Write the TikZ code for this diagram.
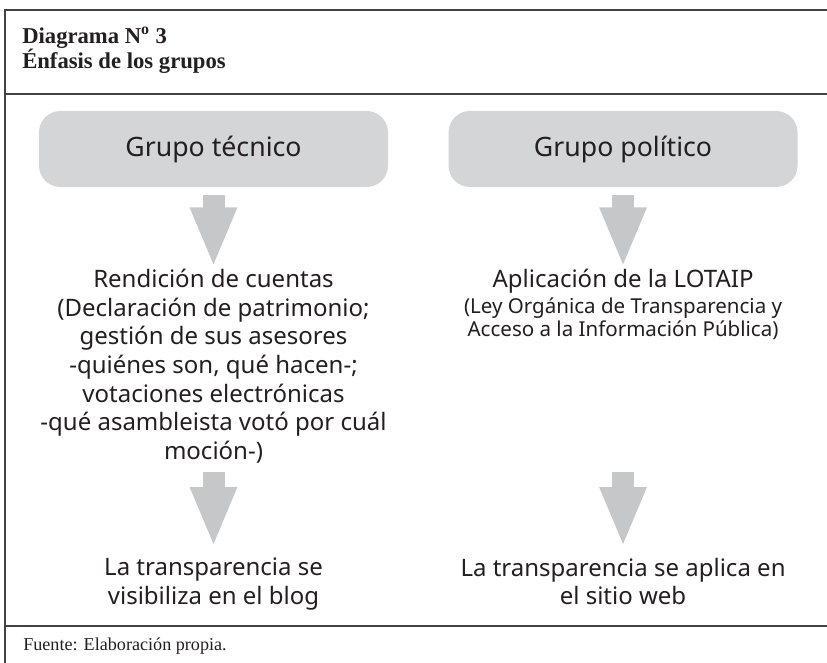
\documentclass[tikz,border=0pt]{standalone}
\usepackage{fontspec}
\setmainfont{Liberation Serif}
\newfontfamily\grupofont{Noto Sans}
\newcommand\notafont{\grupofont\fontsize{15.4}{18}\selectfont}
\usetikzlibrary{arrows.meta, positioning}

\definecolor{boxgray}{HTML}{D4D5D7}
\definecolor{arrowgray}{HTML}{C6C7C9}
\definecolor{ink}{HTML}{231F20}

\begin{document}
\begin{tikzpicture}[
    x=0.75pt, y=-0.75pt,
    node distance = 61.3pt and 45pt,
    grupo/.style = {rectangle, rounded corners=16pt, fill=boxgray, minimum width=261.75pt, minimum height=57pt, inner sep=0pt, font=\grupofont\fontsize{20}{24}\selectfont, text=ink},
    txt/.style = {align=center, inner sep=0pt, font=\grupofont\fontsize{18}{21.5}\selectfont, text=ink},
    bigarrow/.style = {draw=arrowgray, line width=16.5pt, -{Triangle[length=45pt, width=32pt]}, shorten <=6pt, shorten >=1.2pt},
    frameline/.style = {draw=ink!85, line width=0.9pt}
]
\useasboundingbox (0,0) rectangle (827,663);

% =========================================================
% FRAME: title bar and footer
% =========================================================
\draw[frameline] (827,10) -- (5,10) -- (5,663);
\draw[frameline] (5,94) -- (827,94);
\draw[frameline] (5,626) -- (827,626);

\node[anchor=north west, inner sep=0pt, align=left, text=ink,
      font=\bfseries\fontsize{17}{18.75}\selectfont] (titulo) at (22,27)
      {Diagrama N\textsuperscript{o} 3\\\'Enfasis de los grupos};

\node[anchor=base west, inner sep=0pt, text=ink, font=\fontsize{13.6}{15}\selectfont] (fuente) at (23,650)
      {Fuente: Elaboración propia.};

% =========================================================
% TOP ROW: the two groups
% =========================================================
\node[grupo] (tecnico) at (213.5,149) {Grupo técnico};
\node[grupo, right=of tecnico] (politico) {Grupo político};

% =========================================================
% MIDDLE ROW: what each group stresses
% =========================================================
\node[txt, below=of tecnico] (rendicion) {Rendición de cuentas\\
    (Declaración de patrimonio;\\
    gestión de sus asesores\\
    -quiénes son, qué hacen-;\\
    votaciones electrónicas\\
    -qué asambleista votó por cuál\\
    moción-)};

\node[txt, below=of politico] (lotaip) {Aplicación de la LOTAIP\\[-2pt]
    {\notafont (Ley Orgánica de Transparencia y}\\[-4.5pt]
    {\notafont Acceso a la Información Pública)}};

% =========================================================
% BOTTOM ROW: where transparency shows
% =========================================================
\node[txt, below=70.5pt of rendicion] (blog) {La transparencia se\\visibiliza en el blog};
\node[txt, anchor=north] (web) at (blog.north -| lotaip) {La transparencia se aplica en\\el sitio web};

% =========================================================
% ARROWS
% =========================================================
\draw[bigarrow] (tecnico.south) -- (rendicion.north);
\draw[bigarrow] (politico.south) -- (lotaip.north);
\draw[bigarrow, shorten >=8pt] (rendicion.south) -- (blog.north);
\draw[bigarrow, shorten >=8pt] (rendicion.south -| web) -- (web.north);

\end{tikzpicture}
\end{document}
